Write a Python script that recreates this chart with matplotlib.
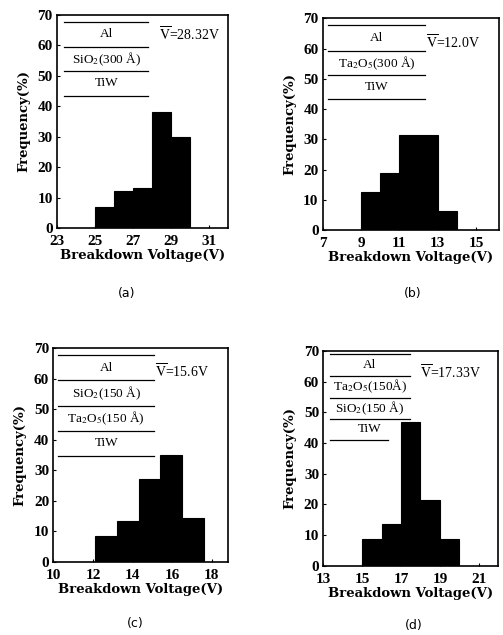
import matplotlib
matplotlib.use("Agg")
import matplotlib.pyplot as plt

plt.rcParams["mathtext.fontset"] = "stix"

# ---- data ----
# (a) SiO2(300A)
edges_a = [25, 26, 27, 28, 29, 30]
freq_a = [7, 12, 13, 38, 30]
# (b) Ta2O5(300A)
edges_b = [9, 10, 11, 12, 13, 14]
freq_b = [12.5, 18.75, 31.25, 31.25, 6.25]
# (c) SiO2(150A) / Ta2O5(150A)
edges_c = [12.1, 13.2, 14.3, 15.4, 16.5, 17.6]
freq_c = [8.5, 13.5, 27, 35, 14.5]
# (d) Ta2O5(150A) / SiO2(150A)
edges_d = [15, 16, 17, 18, 19, 20]
freq_d = [8.7, 13.5, 46.7, 21.5, 8.7]

xticks_a = [23, 25, 27, 29, 31]
xticks_b = [7, 9, 11, 13, 15]
xticks_c = [10, 12, 14, 16, 18]
xticks_d = [13, 15, 17, 19, 21]
yticks = [0, 10, 20, 30, 40, 50, 60, 70]

layers_a = ["Al", "SiO$_2$(300 Å)", "TiW"]
layers_b = ["Al", "Ta$_2$O$_5$(300 Å)", "TiW"]
layers_c = ["Al", "SiO$_2$(150 Å)", "Ta$_2$O$_5$(150 Å)", "TiW"]
layers_d = ["Al", "Ta$_2$O$_5$(150Å)", "SiO$_2$(150 Å)", "TiW"]

means = ["28.32", "12.0", "15.6", "17.33"]
captions = ["(a)", "(b)", "(c)", "(d)"]

fig = plt.figure(figsize=(5.03, 6.35), dpi=100)

panels = [
    dict(rect=[0.1133, 0.641, 0.340, 0.3354], edges=edges_a, freq=freq_a, xlim=(23, 32),
         xticks=xticks_a, layers=layers_a, lines=[67.6, 59.6, 51.6, 43.4], lx=(23.38, 27.8),
         last_lx=None, vpos=(28.37, 63.6), cap=(127, 294)),
    dict(rect=[0.6415, 0.6378, 0.3511, 0.3334], edges=edges_b, freq=freq_b, xlim=(7, 16.2),
         xticks=xticks_b, layers=layers_b, lines=[67.8, 59.2, 51.3, 43.3], lx=(7.29, 12.33),
         last_lx=None, vpos=(12.4, 62.0), cap=(413, 293)),
    dict(rect=[0.106, 0.1154, 0.3467, 0.3361], edges=edges_c, freq=freq_c, xlim=(10, 18.8),
         xticks=xticks_c, layers=layers_c, lines=[67.8, 59.6, 51.1, 42.9, 34.8], lx=(10.25, 15.08),
         last_lx=None, vpos=(15.13, 62.3), cap=(135, 623)),
    dict(rect=[0.6427, 0.1091, 0.3479, 0.3381], edges=edges_d, freq=freq_d, xlim=(13, 22),
         xticks=xticks_d, layers=layers_d, lines=[68.9, 61.9, 54.8, 47.9, 41.0], lx=(13.34, 17.46),
         last_lx=16.34, vpos=(17.97, 62.9), cap=(414, 625)),
]

serif = "DejaVu Serif"
text_serif = "Liberation Serif"

for n, p in enumerate(panels):
    ax = fig.add_axes(p["rect"])
    e = p["edges"]
    widths = [e[i + 1] - e[i] for i in range(len(p["freq"]))]
    ax.bar(e[:-1], p["freq"], width=widths, align="edge", color="black", edgecolor="black", linewidth=0.8)
    ax.set_xlim(*p["xlim"])
    ax.set_ylim(0, 70)
    ax.set_xticks(p["xticks"])
    ax.set_yticks(yticks)
    ax.tick_params(direction="in", length=2, width=0.8, labelsize=11)
    ax.tick_params(axis="x", pad=5)
    ax.tick_params(axis="y", pad=3)
    for lab in ax.get_xticklabels() + ax.get_yticklabels():
        lab.set_fontfamily(text_serif)
        lab.set_fontweight("bold")
    for s in ax.spines.values():
        s.set_linewidth(1.2)
    ax.set_xlabel("Breakdown Voltage(V)", fontfamily=serif, fontweight="bold", fontsize=9.5, labelpad=1)
    ax.set_ylabel("Frequency(%)", fontfamily=serif, fontweight="bold", fontsize=9.5, labelpad=5)

    # layer stack sketch
    lines = p["lines"]
    x0, x1 = p["lx"]
    for i, yl in enumerate(lines):
        xe = x1
        if i == len(lines) - 1 and p["last_lx"] is not None:
            xe = p["last_lx"]
        ax.plot([x0, xe], [yl, yl], color="black", lw=0.9)
    xc = (x0 + x1) / 2
    for i, name in enumerate(p["layers"]):
        ym = (lines[i] + lines[i + 1]) / 2
        ax.text(xc, ym, name, ha="center", va="center", fontsize=9.5, fontfamily=text_serif)
    ax.text(p["vpos"][0], p["vpos"][1], r"$\overline{\mathrm{V}}$=" + means[n] + "V",
            ha="left", va="center", fontsize=10, fontfamily=text_serif)

    fig.text(p["cap"][0] / 503, 1 - p["cap"][1] / 635, captions[n],
             ha="center", va="center", fontsize=9)

fig.savefig("out.png", dpi=100)
